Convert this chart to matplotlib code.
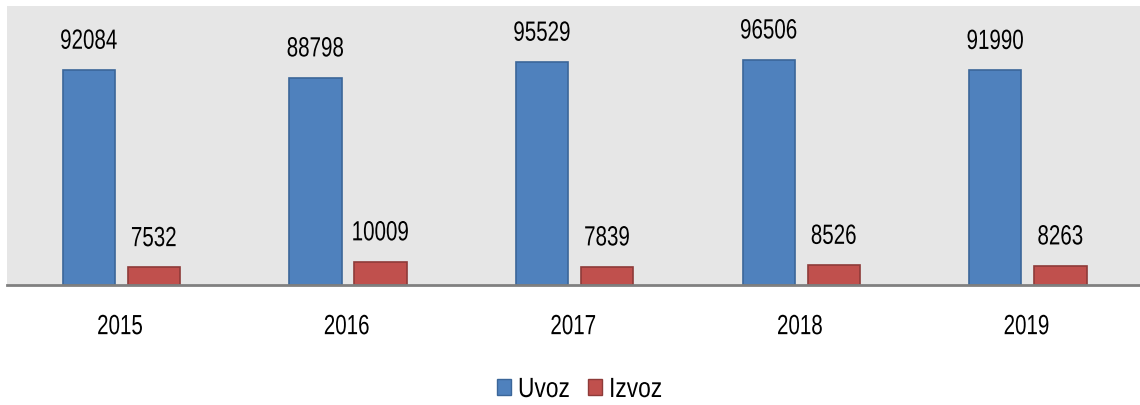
import numpy as np
import matplotlib.pyplot as plt
from matplotlib.patches import Patch
from matplotlib.patheffects import AbstractPathEffect
from matplotlib.transforms import Affine2D

plt.rcParams['font.family'] = ['Liberation Sans', 'DejaVu Sans']


# uski font (Arial Narrow) nije instaliran -> stisni tekst vodoravno oko sredine
class Stisni(AbstractPathEffect):
    def __init__(self, s=0.78):
        super().__init__()
        self.s = s

    def draw_path(self, renderer, gc, tpath, affine, rgbFace=None):
        v = tpath.vertices
        cx = (v[:, 0].min() + v[:, 0].max()) / 2 if len(v) else 0
        t = Affine2D().translate(-cx, 0).scale(self.s, 1).translate(cx, 0)
        renderer.draw_path(gc, tpath, t + affine, rgbFace)


# podaci
godine = ['2015', '2016', '2017', '2018', '2019']
uvoz = [92084, 88798, 95529, 96506, 91990]
izvoz = [7532, 10009, 7839, 8526, 8263]

plava = '#4F81BD'
crvena = '#C0504D'
fs = 20
pe = [Stisni(0.74)]

fig = plt.figure(figsize=(11.4, 4.05), dpi=100)
ax = fig.add_axes([0.006, 1 - 285 / 405, 0.994, 279 / 405])
ax.set_facecolor('#E6E6E6')

x = np.arange(len(godine))
w = 0.23
b1 = ax.bar(x - 0.138, uvoz, w, color=plava, edgecolor='#3B6699', linewidth=1.2)
b2 = ax.bar(x + 0.149, izvoz, w, color=crvena, edgecolor='#8E3B39', linewidth=1.2)

for bars in (b1, b2):
    for b in bars:
        ax.annotate(f'{int(b.get_height())}', (b.get_x() + b.get_width() / 2, b.get_height()),
                    xytext=(0, 11), textcoords='offset points', ha='center', va='bottom',
                    fontsize=fs, path_effects=pe)

ax.set_xlim(-0.5, len(godine) - 0.5)
ax.set_ylim(0, 119500)
ax.set_xticks(x)
ax.set_xticklabels(godine, fontsize=fs, path_effects=pe)
ax.tick_params(axis='x', length=0, pad=21)
ax.set_yticks([])
for s in ['top', 'right', 'left']:
    ax.spines[s].set_visible(False)
ax.spines['bottom'].set_color('#808080')
ax.spines['bottom'].set_linewidth(2)

handles = [Patch(facecolor=plava, edgecolor='#3B6699', label='Uvoz'),
           Patch(facecolor=crvena, edgecolor='#8E3B39', label='Izvoz')]
leg = fig.legend(handles=handles, loc='center', bbox_to_anchor=(0.511, 1 - 390 / 405), ncol=2,
                 frameon=False, fontsize=fs, handlelength=0.5, handleheight=0.5,
                 handletextpad=0.05, columnspacing=0.45)
for t in leg.get_texts():
    t.set_path_effects([Stisni(0.82)])

fig.savefig('out.png', dpi=100)
